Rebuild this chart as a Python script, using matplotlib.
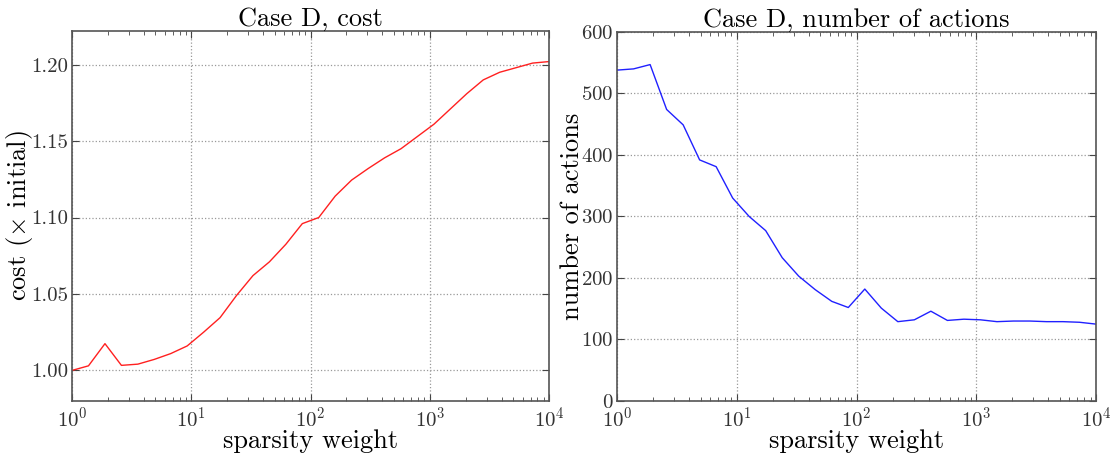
import matplotlib
matplotlib.use('Agg')
import matplotlib.pyplot as plt
import numpy as np

# ---------------------------------------------------------------------------------
# values (30 weights, log spaced from 1 to 1e4)

weights = [1.0, 1.374, 1.889, 2.595, 3.566, 4.894, 6.723, 9.237, 12.69, 17.43,
           23.95, 32.90, 45.20, 62.10, 85.32, 117.2, 161.0, 221.2, 303.9, 417.5,
           573.7, 788.0, 1082.6, 1487.4, 2043.4, 2807.2, 3856.6, 5298.3, 7278.9, 10000.0]

cost = [1.000, 1.003, 1.0175, 1.0033, 1.0041, 1.0072, 1.011, 1.016, 1.025, 1.0345,
        1.049, 1.062, 1.071, 1.0825, 1.096, 1.100, 1.114, 1.1245, 1.132, 1.139,
        1.145, 1.153, 1.161, 1.171, 1.181, 1.190, 1.195, 1.198, 1.201, 1.202]

n_actions = [538, 540, 547, 474, 449, 392, 381, 330, 300, 277,
             233, 203, 181, 162, 152, 182, 151, 129, 132, 146,
             131, 133, 132, 129, 130, 130, 129, 129, 128, 125]

cost_ticks = [1.00, 1.05, 1.10, 1.15, 1.20]
action_ticks = [0, 100, 200, 300, 400, 500, 600]

# ---------------------------------------------------------------------------------

plt.rcParams['font.family'] = 'serif'
plt.rcParams['font.serif'] = ['cmr10']
plt.rcParams['mathtext.fontset'] = 'cm'
plt.rcParams['axes.formatter.use_mathtext'] = True
plt.rcParams['axes.unicode_minus'] = False

def style_axes(ax):
  ax.set_xscale('log')
  ax.set_xlim(1, 1e4)
  ax.tick_params(which='both', direction='in', top=True, right=True,
                 labelsize=15, labelcolor='#333333', color='#444444')
  ax.tick_params(which='major', length=5)
  ax.tick_params(which='minor', length=3)
  ax.tick_params(axis='y', which='major', pad=2.5)
  ax.tick_params(axis='x', which='major', pad=4)
  ax.grid(True, which='major', linestyle=':', color='#999999', lw=0.9)
  for s in ax.spines.values():
    s.set_color('#555555')
    s.set_linewidth(1.2)
  ax.set_xlabel('sparsity weight', fontsize=19, labelpad=-1)

fig = plt.figure(figsize=(11.15, 4.55), dpi=100)

ax1 = fig.add_axes([0.0646, 0.1187, 0.4278, 0.8132])
ax1.plot(weights, cost, '-', color='#ff2020', lw=1)
style_axes(ax1)
ax1.set_ylim(0.98, 1.222)
ax1.set_yticks(cost_ticks)
ax1.set_yticklabels(['%.2f' % v for v in cost_ticks])
ax1.set_ylabel(r'cost ($\times$ initial)', fontsize=19)
ax1.yaxis.set_label_coords(-0.077, 0.5)
ax1.set_title('Case D, cost', fontsize=19, pad=3)

ax2 = fig.add_axes([0.5534, 0.1187, 0.4296, 0.8110])
ax2.plot(weights, n_actions, '-', color='#2020ff', lw=1)
style_axes(ax2)
ax2.set_ylim(0, 600)
ax2.set_yticks(action_ticks)
ax2.set_ylabel('number of actions', fontsize=19)
ax2.yaxis.set_label_coords(-0.07, 0.5)
ax2.set_title('Case D, number of actions', fontsize=19, pad=3)

plt.savefig('out.png', dpi=100)
